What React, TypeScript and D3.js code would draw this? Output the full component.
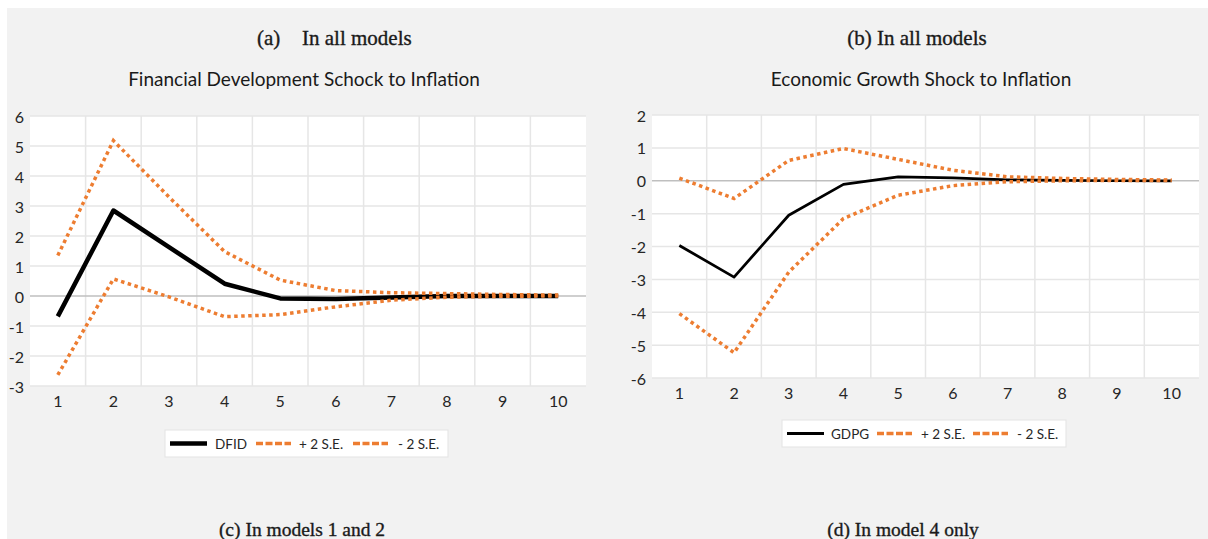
import React from "react";
import * as d3 from "d3";

const periods = ["1", "2", "3", "4", "5", "6", "7", "8", "9", "10"];

// Panel (a): Financial Development shock to Inflation
const dfid = [-0.68, 2.85, 1.63, 0.41, -0.08, -0.1, -0.05, 0.0, 0.0, 0.0];
const dfidUpper = [1.35, 5.18, 3.3, 1.48, 0.53, 0.18, 0.11, 0.08, 0.05, 0.03];
const dfidLower = [-2.63, 0.57, -0.03, -0.69, -0.62, -0.36, -0.14, -0.04, -0.01, 0.0];
const yTicksA = [-3, -2, -1, 0, 1, 2, 3, 4, 5, 6];

// Panel (b): Economic Growth shock to Inflation
const gdpg = [-1.97, -2.93, -1.05, -0.11, 0.12, 0.09, 0.03, 0.01, 0.0, 0.0];
const gdpgUpper = [0.08, -0.54, 0.62, 0.98, 0.65, 0.32, 0.12, 0.07, 0.04, 0.02];
const gdpgLower = [-4.04, -5.23, -2.78, -1.15, -0.44, -0.15, -0.03, 0.0, 0.01, 0.01];
const yTicksB = [-6, -5, -4, -3, -2, -1, 0, 1, 2];

const ORANGE = "#ED7D31";
const SANS = "Lato, 'Open Sans', sans-serif";
const SERIF = "'Liberation Serif', 'DejaVu Serif', serif";

type PanelProps = {
  left: number;
  right: number;
  top: number;
  bottom: number;
  domain: [number, number];
  ticks: number[];
  main: number[];
  upper: number[];
  lower: number[];
  mainWidth: number;
  xLabelY: number;
};

function Panel(p: PanelProps) {
  const x = d3.scaleBand<string>().domain(periods).range([p.left, p.right]).padding(0);
  const y = d3.scaleLinear().domain(p.domain).range([p.bottom, p.top]);
  const cx = (i: number) => (x(periods[i]) as number) + x.bandwidth() / 2;
  const line = d3
    .line<number>()
    .x((_, i) => cx(i))
    .y((d) => y(d));
  const boundaries = periods.slice(1).map((c) => x(c) as number);
  return (
    <g>
      <rect x={p.left} y={p.top} width={p.right - p.left} height={p.bottom - p.top} fill="#ffffff" />
      {p.ticks
        .filter((t) => t !== 0)
        .map((t) => (
          <line key={"h" + t} x1={p.left} x2={p.right} y1={y(t)} y2={y(t)} stroke="#e6e6e6" strokeWidth={1.5} />
        ))}
      {boundaries.map((b, i) => (
        <line key={"v" + i} x1={b} x2={b} y1={p.top} y2={p.bottom} stroke="#e6e6e6" strokeWidth={1.5} />
      ))}
      <line x1={p.left} x2={p.right} y1={y(0)} y2={y(0)} stroke="#bfbfbf" strokeWidth={1.5} />
      {p.ticks.map((t) => (
        <text
          key={"yl" + t}
          x={p.left - 6}
          y={y(t)}
          textAnchor="end"
          dominantBaseline="central"
          fontFamily={SANS}
          fontSize={16}
          fill="#262626"
        >
          {t}
        </text>
      ))}
      {periods.map((c, i) => (
        <text
          key={"xl" + c}
          x={cx(i)}
          y={p.xLabelY}
          textAnchor="middle"
          dominantBaseline="central"
          fontFamily={SANS}
          fontSize={16}
          fill="#262626"
        >
          {c}
        </text>
      ))}
      <path d={line(p.main) || ""} fill="none" stroke="#000" strokeWidth={p.mainWidth} strokeLinejoin="round" />
      <path d={line(p.upper) || ""} fill="none" stroke={ORANGE} strokeWidth={3.5} strokeDasharray="3.5 3.5" />
      <path d={line(p.lower) || ""} fill="none" stroke={ORANGE} strokeWidth={3.5} strokeDasharray="3.5 3.5" />
    </g>
  );
}

type LegendProps = { x: number; y: number; w: number; h: number; name: string; mainWidth: number; nameX: number[] };

function Legend(l: LegendProps) {
  const cy = l.y + l.h / 2;
  const [s1, t1, s2, t2, s3, t3] = l.nameX;
  const txt = (tx: number, s: string) => (
    <text x={tx} y={cy} dominantBaseline="central" fontFamily={SANS} fontSize={13.5} fill="#262626">
      {s}
    </text>
  );
  return (
    <g>
      <rect x={l.x} y={l.y} width={l.w} height={l.h} fill="#ffffff" stroke="#e3e3e3" strokeWidth={1} />
      <line x1={s1} x2={s1 + 37} y1={cy} y2={cy} stroke="#000" strokeWidth={l.mainWidth} />
      {txt(t1, l.name)}
      <line x1={s2} x2={s2 + 35} y1={cy} y2={cy} stroke={ORANGE} strokeWidth={3.5} strokeDasharray="7 2.5" />
      {txt(t2, "+ 2 S.E.")}
      <line x1={s3} x2={s3 + 35} y1={cy} y2={cy} stroke={ORANGE} strokeWidth={3.5} strokeDasharray="7 2.5" />
      {txt(t3, "- 2 S.E.")}
    </g>
  );
}

const serifText = {
  fontFamily: SERIF,
  fontSize: 21,
  fill: "#1a1a1a",
  stroke: "#1a1a1a",
  strokeWidth: 0.35,
} as const;

export default function App() {
  return (
    <svg
      width={1208}
      height={539}
      style={{ position: "absolute", left: 0, top: 0, display: "block" }}
      xmlns="http://www.w3.org/2000/svg"
    >
      <rect x={0} y={0} width={1208} height={539} fill="#ffffff" />
      <rect x={7} y={8} width={1201} height={531} fill="#f2f2f2" />

      <text x={257} y={45} {...serifText}>
        (a)
      </text>
      <text x={302} y={45} {...serifText}>
        In all models
      </text>
      <text x={917} y={45} textAnchor="middle" {...serifText}>
        (b) In all models
      </text>
      <text x={304} y={78} textAnchor="middle" dominantBaseline="central" fontFamily={SANS} fontSize={19} fill="#1a1a1a">
        Financial Development Schock to Inflation
      </text>
      <text x={921} y={78} textAnchor="middle" dominantBaseline="central" fontFamily={SANS} fontSize={19} fill="#1a1a1a">
        Economic Growth Shock to Inflation
      </text>

      <Panel
        left={30}
        right={586}
        top={116}
        bottom={386}
        domain={[-3, 6]}
        ticks={yTicksA}
        main={dfid}
        upper={dfidUpper}
        lower={dfidLower}
        mainWidth={4.5}
        xLabelY={400}
      />
      <Panel
        left={652}
        right={1199}
        top={115}
        bottom={378}
        domain={[-6, 2]}
        ticks={yTicksB}
        main={gdpg}
        upper={gdpgUpper}
        lower={gdpgLower}
        mainWidth={2.75}
        xLabelY={392}
      />

      <Legend x={165} y={430} w={283} h={27} name="DFID" mainWidth={4.5} nameX={[170, 215, 256, 299, 353, 398]} />
      <Legend x={782} y={420} w={284} h={27} name="GDPG" mainWidth={3} nameX={[787, 831, 877, 921, 973, 1017]} />

      <text x={302} y={536} textAnchor="middle" {...serifText} fontSize={19.5}>
        (c) In models 1 and 2
      </text>
      <text x={903} y={536} textAnchor="middle" {...serifText} fontSize={19.5}>
        (d) In model 4 only
      </text>
    </svg>
  );
}
